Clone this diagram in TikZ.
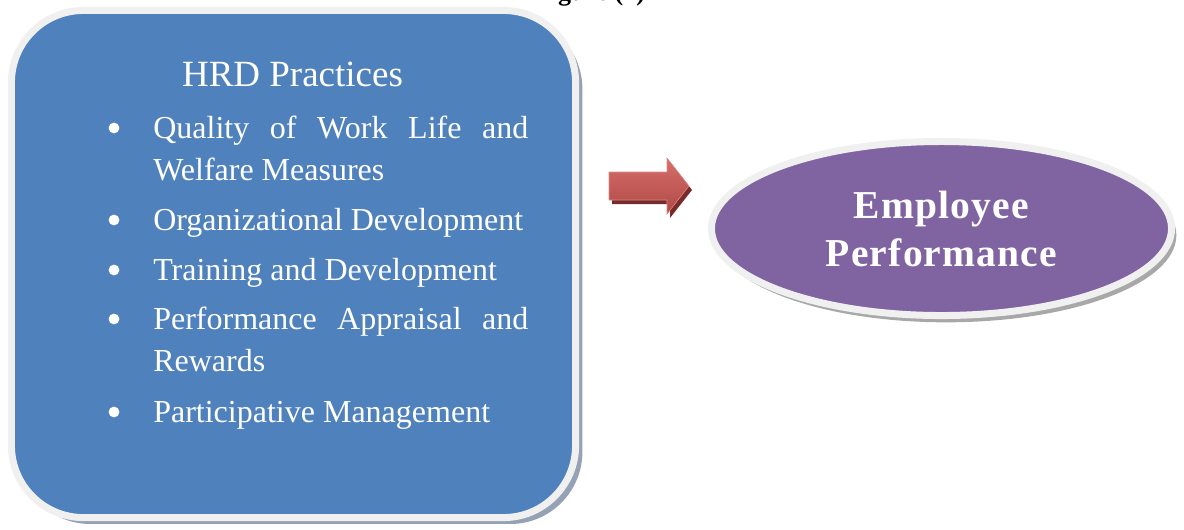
\documentclass[tikz,border=0pt]{standalone}
\usepackage{fontspec}
\setmainfont{Liberation Serif}
\newfontfamily\spacedfont[LetterSpace=3]{Liberation Serif}
\usetikzlibrary{shapes.geometric,shadows}
\definecolor{hrdblue}{HTML}{4F81BD}
\definecolor{emppurple}{HTML}{8064A2}
\definecolor{rimgray}{HTML}{F0F0F0}
\definecolor{blueshadow}{HTML}{95A2B6}
\definecolor{grayshadow}{HTML}{A8A8A8}
\definecolor{arrowdark}{HTML}{772C2A}
\definecolor{arrowedge}{HTML}{D98E8B}
\definecolor{arrowtop}{HTML}{D66F6C}
\definecolor{arrowbottom}{HTML}{B04845}
\hyphenpenalty=10000
\tolerance=10000
\begin{document}
\begin{tikzpicture}[x=.025cm, y=-.025cm,
  panel/.style={rectangle, rounded corners=1.8cm, fill=hrdblue, draw=rimgray, line width=.175cm, minimum width=14.1cm, minimum height=12.675cm, drop shadow={shadow xshift=.17cm, shadow yshift=-.16cm, fill=blueshadow, opacity=1}},
  oval/.style={ellipse, fill=emppurple, draw=rimgray, line width=.175cm, minimum width=11.5cm, minimum height=4.35cm, text=white, align=center, font=\fontsize{28.1pt}{34.1pt}\spacedfont\bfseries, drop shadow={shadow xshift=.12cm, shadow yshift=-.17cm, fill=grayshadow, opacity=1}},
  dot/.style={circle, fill=white, inner sep=0pt, minimum size=.27cm},
  item/.style={anchor=base west, inner sep=0pt, text=white, text width=9.375cm, align=justify, font=\fontsize{22.76pt}{29.87pt}\selectfont},
  head/.style={anchor=base, inner sep=0pt, text=white, font=\fontsize{26.3pt}{31pt}\selectfont}]
\useasboundingbox (0,0) rectangle (1184,529);
\node[anchor=base, inner sep=0pt, font=\fontsize{18.5pt}{22pt}\selectfont\bfseries] (fig) at (590,0) {Figure (1)};
\node[panel] (hrd) at (293.5,264) {};
\node[head] (title) at (292.5,86) {HRD Practices};
\node[dot] (b1) at (114,128) {};
\node[item] (i1) at (153,138) {Quality of Work Life and Welfare Measures};
\node[dot] (b2) at (114,220) {};
\node[item] (i2) at (153,230) {Organizational Development};
\node[dot] (b3) at (114,270) {};
\node[item] (i3) at (153,280) {Training and Development};
\node[dot] (b4) at (114,319) {};
\node[item] (i4) at (153,329) {Performance Appraisal and Rewards};
\node[dot] (b5) at (114,412) {};
\node[item] (i5) at (153,422) {Participative Management};
\coordinate (tail) at (609,186);
\fill[arrowdark] ([shift={(3,4)}]tail) ++(0,-14) -- ++(58,0) -- ++(0,-14) -- ++(22,28) -- ++(-22,28) -- ++(0,-14) -- ++(-58,0) -- cycle;
\draw[draw=arrowedge, top color=arrowtop, bottom color=arrowbottom] (tail) ++(0,-14) -- ++(58,0) -- ++(0,-14) -- ++(22,28) -- ++(-22,28) -- ++(0,-14) -- ++(-58,0) -- cycle;
\node[oval] (emp) at (941.5,228.5) {Employee\\Performance};
\end{tikzpicture}
\end{document}
